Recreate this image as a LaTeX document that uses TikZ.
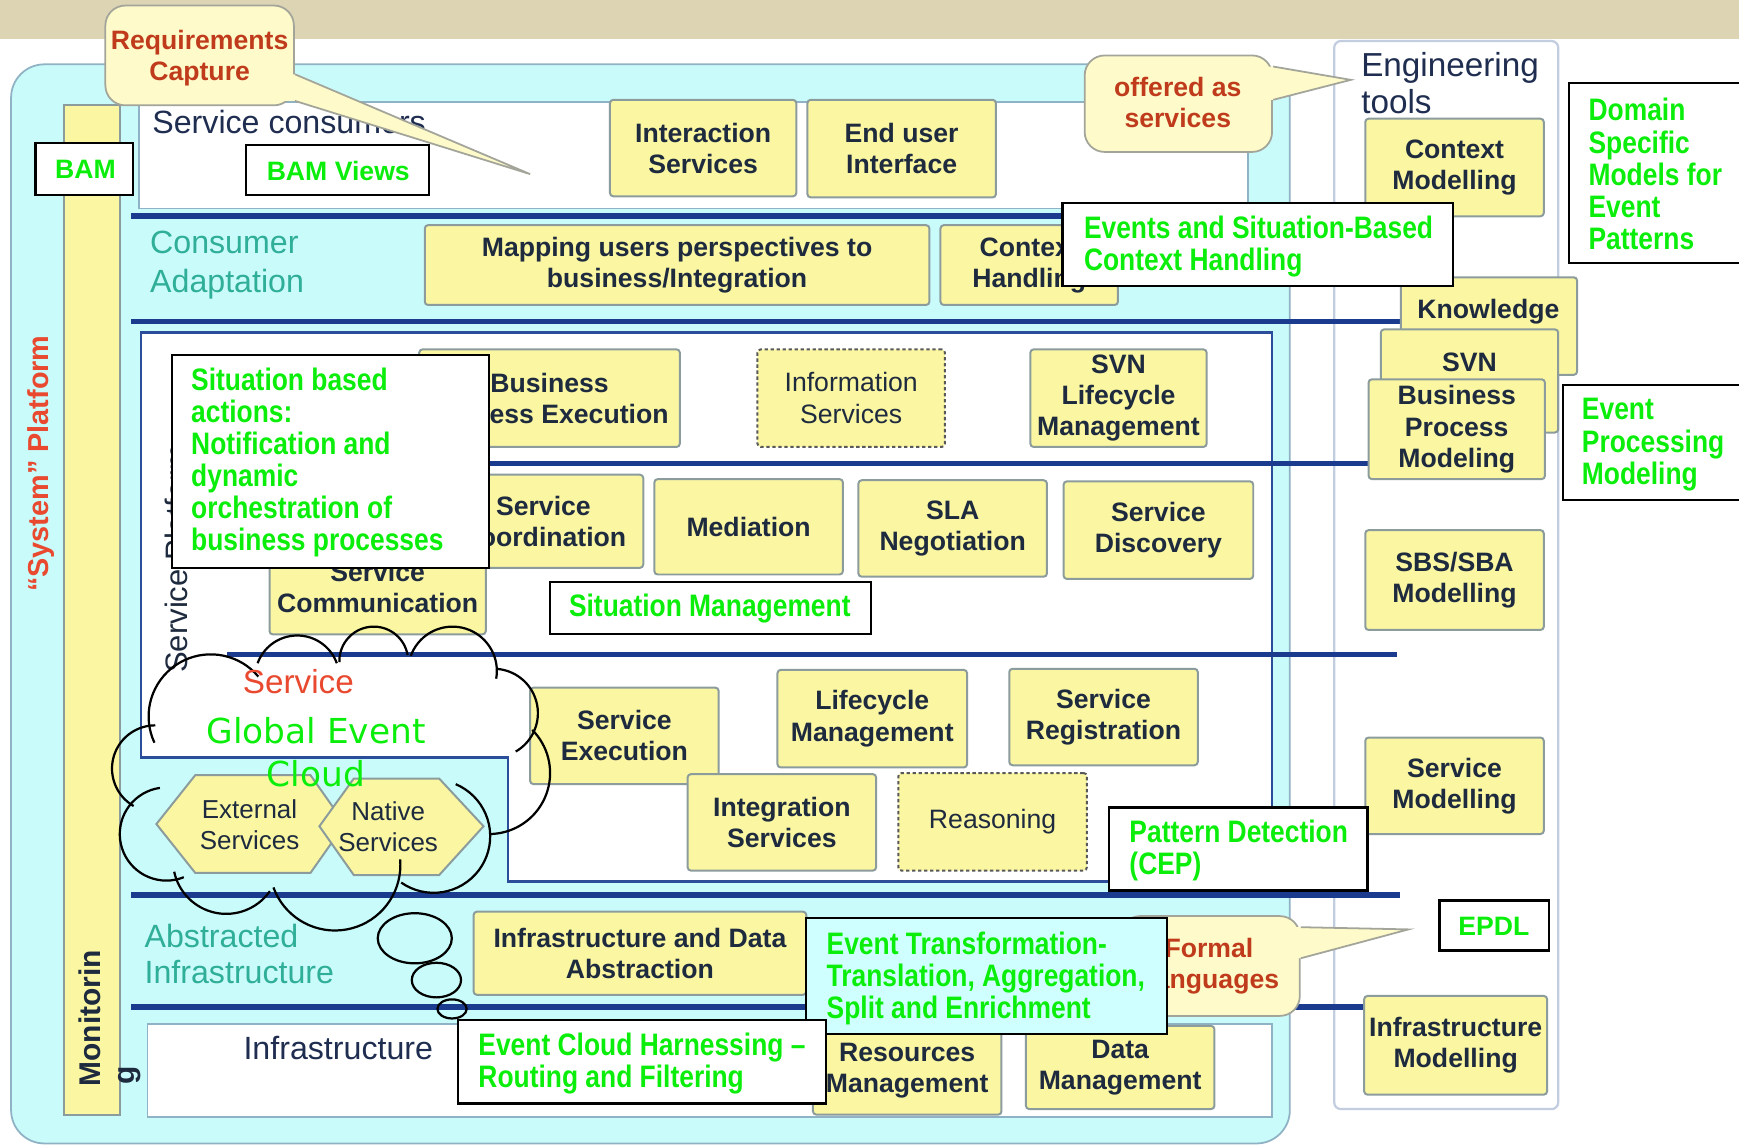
\documentclass[tikz,border=0pt]{standalone}
\usepackage{fontspec}
\setmainfont{Liberation Sans}
\newfontfamily\narrowf{Liberation Sans}[FakeStretch=0.85]
\newfontfamily\dejavuf{DejaVu Sans}
\usetikzlibrary{fit}

\definecolor{tanband}{HTML}{DDD4B4}
\definecolor{outercyan}{HTML}{CAFBFB}
\definecolor{outerborder}{HTML}{8FB3C4}
\definecolor{boxfill}{HTML}{FAF6A2}
\definecolor{boxborder}{HTML}{8C9C9C}
\definecolor{boxtext}{HTML}{1E2A3E}
\definecolor{navyline}{HTML}{1B3C8E}
\definecolor{platborder}{HTML}{2C4D9A}
\definecolor{layerteal}{HTML}{2FAE98}
\definecolor{evgreen}{HTML}{0BEE0B}
\definecolor{bubfill}{HTML}{FEFAC9}
\definecolor{bubborder}{HTML}{A3A59A}
\definecolor{bubtext}{HTML}{BF3B1C}
\definecolor{sysred}{HTML}{E8492F}
\definecolor{engborder}{HTML}{C3CDE0}
\definecolor{etfill}{HTML}{CFFFFF}
\definecolor{darknavy}{HTML}{1F2D50}

\tikzset{
 ybox/.style={draw=boxborder, fill=boxfill, line width=0.9pt, rounded corners=1.5pt, inner sep=0pt},
 ydash/.style={ybox, draw=gray!70!black, dash pattern=on 1.5pt off 1.2pt},
 yboxtxt/.style={inner sep=0pt, align=center, text=boxtext, font=\bfseries\fontsize{12}{14}\selectfont},
 ydashtxt/.style={inner sep=0pt, align=center, text=boxtext, font=\fontsize{12}{14.5}\selectfont},
 hexshape/.style={draw=boxborder, fill=boxfill, line width=0.9pt},
 hextext/.style={inner sep=0pt, align=center, text=boxtext, font=\fontsize{11.7}{14}\selectfont},
 cbox/.style={draw=black, fill=white, line width=1pt, inner sep=0pt},
 gtext/.style={inner sep=0pt, align=left, text=evgreen, font=\narrowf\bfseries\fontsize{14}{14.5}\selectfont},
 gwide/.style={inner sep=0pt, text=evgreen, font=\bfseries\fontsize{12}{14}\selectfont},
 navy/.style={draw=navyline, line width=2.5pt},
 bubble/.style={fill=bubfill, draw=bubborder, line width=0.8pt, rounded corners=9pt},
 bubtxt/.style={inner sep=0pt, align=center, text=bubtext, font=\bfseries\fontsize{12}{14}\selectfont},
 layertxt/.style={inner sep=0pt, align=left, text=layerteal, font=\fontsize{14.5}{17}\selectfont},
 darktxt/.style={inner sep=0pt, align=left, text=darknavy, font=\fontsize{14.5}{17}\selectfont},
 cloudline/.style={draw=black, line width=1pt},
}
% #1 style (ybox/ydash), #2 name, #3 fit corners, #4 text
\newcommand{\ybnode}[4]{\node[#1, fit={#3}] (#2) {};\node[#1txt] (#2-t) at (#2.center) {#4};}
% cloud lobe: centre x, centre y, radius, start angle, end angle (y axis points down)
\newcommand{\lobe}[5]{\draw[cloudline] plot[domain=#4:#5, samples=36, variable=\t] ({#1+#3*cos(\t)}, {#2+#3*sin(\t)});}

\begin{document}
\begin{tikzpicture}[x=0.5pt,y=-0.5pt]
\useasboundingbox (0,0) rectangle (1568,1033);
\fill[white] (0,0) rectangle (1568,1033);
\fill[tanband] (0,0) rectangle (1568,35);

% engineering tools column
\draw[fill=white, draw=engborder, line width=1pt, rounded corners=3pt] (1203,37) rectangle (1405,1000);
% outer cyan platform
\draw[fill=outercyan, draw=outerborder, line width=0.8pt, rounded corners=15pt] (10,58) rectangle (1163,1031);
% monitoring column
\draw[fill=boxfill, draw=boxborder, line width=0.8pt] (58,95) rectangle (108,1005);

% layer boxes
\draw[fill=white, draw=outerborder, line width=0.8pt] (125,92) rectangle (1125,188);
\draw[fill=white, draw=platborder, line width=1.2pt] (127,300) -- (1147,300) -- (1147,795) -- (458,795) -- (458,683) -- (127,683) -- cycle;
\draw[fill=white, draw=outerborder, line width=0.8pt] (133,923) rectangle (1147,1007);

% navy separators
\draw[navy] (118,195) -- (1145,195);
\draw[navy] (118,290) -- (1265,290);
\draw[navy] (380,418) -- (1235,418);
\draw[navy] (205,590) -- (1260,590);
\draw[navy] (118,807) -- (1262,807);
\draw[navy] (118,908) -- (1232,908);

% layer labels
\node[darktxt, anchor=west] (svccons) at (137,110) {Service consumers};
\node[layertxt, anchor=west] (consad) at (135,239) {Consumer\\[0.4pt]Adaptation};
\node[layertxt, anchor=west] (absinf) at (130,860) {Abstracted\\[-0.6pt]Infrastructure};
\node[darktxt] (infra) at (305,945) {Infrastructure};
\node[darktxt, anchor=west, font=\fontsize{15}{17}\selectfont] (engtools) at (1227,75) {Engineering\\tools};
\node[rotate=90, anchor=west, inner sep=0pt, text=boxtext, font=\fontsize{14}{16}\selectfont] (svcplat) at (159,607) {Service Platform};
\node[rotate=90, inner sep=0pt, text=sysred, font=\bfseries\fontsize{13}{15}\selectfont] (sysplat) at (37,418) {“System” Platform};
\node[rotate=90, inner sep=0pt, text=boxtext, font=\bfseries\fontsize{13.5}{16}\selectfont] (mon) at (81,918) {Monitorin};
\node[rotate=90, inner sep=0pt, text=boxtext, font=\bfseries\fontsize{13.5}{16}\selectfont] (mong) at (117,970) {g};

% yellow boxes
\ybnode{ybox}{inter}{(550,90)(718,177)}{Interaction\\Services}
\ybnode{ybox}{enduser}{(728,90)(898,178)}{End user\\Interface}
\ybnode{ybox}{mapping}{(383,203)(838,275)}{Mapping users perspectives to\\business/Integration}
\ybnode{ybox}{ctxh}{(848,203)(1008,275)}{Context\\Handling}
\ybnode{ybox}{bpe}{(378,315)(613,403)}{Business\\Process Execution}
\ybnode{ydash}{infos}{(683,315)(852,403)}{Information\\Services}
\ybnode{ybox}{svnlm}{(929,315)(1088,403)}{SVN\\Lifecycle\\Management}
\ybnode{ybox}{scomm}{(243,488)(438,572)}{Service\\Communication}
\ybnode{ybox}{scoord}{(400,428)(580,512)}{Service\\Coordination}
\ybnode{ybox}{medi}{(590,432)(760,518)}{Mediation}
\ybnode{ybox}{sla}{(774,433)(944,520)}{SLA\\Negotiation}
\ybnode{ybox}{sdisc}{(959,434)(1130,522)}{Service\\Discovery}
\ybnode{ybox}{sexec}{(478,620)(648,707)}{Service\\Execution}
\ybnode{ybox}{lcm}{(701,604)(872,692)}{Lifecycle\\Management}
\ybnode{ybox}{sreg}{(910,603)(1080,690)}{Service\\Registration}
\ybnode{ybox}{integ}{(620,698)(790,785)}{Integration\\Services}
\ybnode{ydash}{reason}{(810,697)(980,785)}{Reasoning}
\ybnode{ybox}{infabs}{(427,822)(727,897)}{Infrastructure and Data\\Abstraction}
\ybnode{ybox}{resm}{(733,925)(903,1005)}{Resources\\Management}
\ybnode{ybox}{datam}{(925,925)(1095,1000)}{Data\\Management}

% engineering tool boxes
\ybnode{ybox}{ctxmod}{(1231,107)(1392,195)}{Context\\Modelling}
\node[ybox, fit={(1263,250)(1422,338)}] (know) {};
\node[yboxtxt] (knowt) at (1342,281) {Knowledge};
\node[ybox, fit={(1245,297)(1405,390)}] (svnb) {};
\node[yboxtxt] (svnt) at (1325,327) {SVN};
\ybnode{ybox}{bpmod}{(1234,342)(1393,432)}{Business\\Process\\Modeling}
\ybnode{ybox}{sbs}{(1231,478)(1392,568)}{SBS/SBA\\Modelling}
\ybnode{ybox}{smod}{(1231,665)(1392,752)}{Service\\Modelling}
\ybnode{ybox}{infmod}{(1230,898)(1395,987)}{Infrastructure\\Modelling}

% hexagons
\draw[hexshape] (141,743) -- (176,699) -- (280,699) -- (311,743) -- (280,787) -- (176,787) -- cycle;
\draw[hexshape] (288,745) -- (319,702) -- (396,702) -- (436,745) -- (396,789) -- (319,789) -- cycle;
\node[hextext] (exts) at (225,744) {External\\Services};
\node[hextext] (nats) at (350,745) {Native\\Services};

% cloud outline (lobes)
\lobe{190}{646}{56}{155}{320}
\lobe{268}{611}{38}{200}{340}
\lobe{337}{596}{31}{178}{350}
\lobe{408}{605}{40}{200}{370}
\lobe{445}{643}{40}{275}{420}
\lobe{441}{697}{55}{-45}{90}
\lobe{391}{754}{51}{-67}{125}
\lobe{302}{780}{59}{-5}{160}
\lobe{204}{776}{48}{35}{168}
\lobe{150}{752}{42}{68}{262}
\lobe{140}{693}{39}{120}{270}
\draw[cloudline] (374,846) ellipse [x radius=16.7pt, y radius=11.3pt];
\draw[cloudline] (393.5,883.7) ellipse [x radius=11.1pt, y radius=7.8pt];
\draw[cloudline] (407.6,909.7) ellipse [x radius=6.6pt, y radius=4.3pt];
\node[inner sep=0pt, text=sysred, font=\fontsize{15}{17}\selectfont] (cloudsvc) at (269,615) {Service};
\node[inner sep=0pt, align=center, text=evgreen, font=\dejavuf\fontsize{15.5}{19.5}\selectfont] (gec) at (285,678) {Global Event\\Cloud};

% bubbles
\draw[bubble] (95,5) rectangle (265,95);
\fill[bubfill] (255,67) -- (266,67) -- (478,157) -- (266,91) -- (255,91) -- cycle;
\draw[bubborder, line width=0.8pt] (266,67) -- (478,157) -- (266,91);
\node[bubtxt] (reqcap) at (180,52) {Requirements\\Capture};

\draw[bubble] (978,50) rectangle (1147,137);
\fill[bubfill] (1137,60) -- (1148,60) -- (1218,72) -- (1148,90) -- (1137,90) -- cycle;
\draw[bubborder, line width=0.8pt] (1148,60) -- (1218,72) -- (1148,90);
\node[bubtxt] (offered) at (1062,92) {offered as\\services};

\draw[bubble] (1010,826) rectangle (1172,916);
\fill[bubfill] (1162,836) -- (1173,836) -- (1270,838) -- (1173,864) -- (1162,864) -- cycle;
\draw[bubborder, line width=0.8pt] (1173,836) -- (1270,838) -- (1173,864);
\node[bubtxt] (formal) at (1090,871) {Formal\\Languages};

% green callouts
\node[cbox, fit={(32,129)(120,176)}] (bambox) {};
\node[gwide] (bamt) at (77,153) {BAM};
\node[cbox, fit={(222,131)(387,176)}] (bamvbox) {};
\node[gwide] (bamvt) at (305,154) {BAM Views};
\node[cbox, fit={(958,183)(1310,258)}] (evbox) {};
\node[gtext, anchor=west] (evt) at (977,222) {Events and Situation-Based\\Context Handling};
\node[cbox, fit={(1415,75)(1580,237)}] (dombox) {};
\node[gtext, anchor=west] (domt) at (1432,157) {Domain\\Specific\\Models for\\Event\\Patterns};
\node[cbox, fit={(155,320)(441,512)}] (sitbox) {};
\node[gtext, anchor=west] (sitt) at (172,417) {Situation based\\actions:\\Notification and\\dynamic\\orchestration of\\business processes};
\node[cbox, fit={(496,525)(785,572)}] (smbox) {};
\node[gtext] (smt) at (640,549) {Situation Management};
\node[cbox, fit={(1409,347)(1580,451)}] (epbox) {};
\node[gtext, anchor=west] (ept) at (1426,401) {Event\\Processing\\Modeling};
\node[cbox, fit={(1000,728)(1233,803)}] (pdbox) {};
\node[gtext, anchor=west] (pdt) at (1018,767) {Pattern Detection\\(CEP)};
\node[cbox, fit={(1298,812)(1397,857)}] (epdlbox) {};
\node[gwide] (epdlt) at (1347,835) {EPDL};
\node[cbox, fill=etfill, fit={(727,828)(1052,932)}] (etbox) {};
\node[gtext, anchor=west] (ett) at (745,882) {Event Transformation-\\Translation, Aggregation,\\Split and Enrichment};
\node[cbox, fit={(413,920)(745,995)}] (echbox) {};
\node[gtext, anchor=west] (echt) at (431,959) {Event Cloud Harnessing –\\Routing and Filtering};
\end{tikzpicture}
\end{document}
